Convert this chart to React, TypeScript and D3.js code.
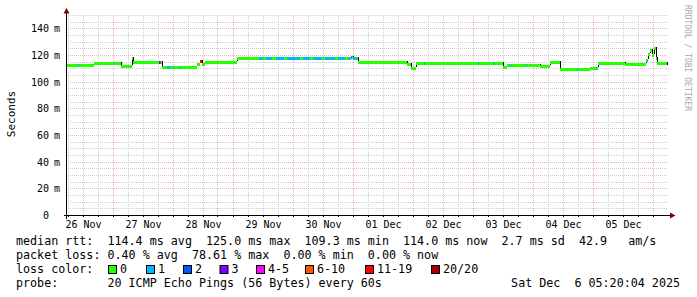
import React from "react";
import * as d3 from "d3";

// ---------- data ----------
const startTime = "2025-11-26T05:36:00Z";
const endTime = "2025-12-06T05:36:00Z";

const yTicks = [0, 20, 40, 60, 80, 100, 120, 140];
const yMax = 150;

// median RTT (ms), step series: value holds from time until next time
const rttTimes = [
  "2025-11-26T05:36:00Z", "2025-11-26T16:36:00Z", "2025-11-27T03:24:00Z", "2025-11-27T07:36:00Z",
  "2025-11-27T08:12:00Z", "2025-11-27T19:48:00Z", "2025-11-28T09:48:00Z", "2025-11-28T11:00:00Z",
  "2025-11-28T11:48:00Z", "2025-11-28T13:00:00Z", "2025-11-29T01:48:00Z", "2025-11-30T23:24:00Z",
  "2025-12-01T00:12:00Z", "2025-12-01T02:12:00Z", "2025-12-01T21:48:00Z", "2025-12-01T23:24:00Z",
  "2025-12-02T01:24:00Z", "2025-12-03T12:12:00Z", "2025-12-03T13:48:00Z", "2025-12-04T03:00:00Z",
  "2025-12-04T07:00:00Z", "2025-12-04T11:00:00Z", "2025-12-04T23:00:00Z", "2025-12-05T02:12:00Z",
  "2025-12-05T13:00:00Z", "2025-12-05T21:24:00Z", "2025-12-05T22:12:00Z", "2025-12-05T23:00:00Z",
  "2025-12-05T23:48:00Z", "2025-12-06T00:36:00Z", "2025-12-06T01:24:00Z", "2025-12-06T01:48:00Z",
  "2025-12-06T05:36:00Z",
];
const rttValues = [
  112.7, 114.0, 112.0, 117.5,
  114.8, 111.3, 113.0, 115.2,
  113.5, 115.0, 118.0, 118.6,
  117.6, 114.8, 113.0, 110.5,
  113.8, 111.0, 112.2, 111.5,
  114.7, 109.5, 110.3, 113.9,
  113.3, 116.0, 121.0, 124.0,
  120.0, 125.0, 118.0, 114.0,
  114.0,
];

// packet-loss spans (loss class index into lossLabels)
const lossStart = [
  "2025-11-26T10:12:00Z", "2025-11-27T00:24:00Z", "2025-11-27T18:36:00Z", "2025-11-27T19:00:00Z",
  "2025-11-27T21:48:00Z", "2025-11-28T00:12:00Z", "2025-11-28T03:00:00Z", "2025-11-28T11:00:00Z",
  "2025-11-29T10:36:00Z", "2025-11-29T13:24:00Z", "2025-11-29T17:24:00Z", "2025-11-29T21:48:00Z",
  "2025-11-30T04:12:00Z", "2025-11-30T08:12:00Z", "2025-11-30T13:00:00Z", "2025-11-30T18:12:00Z",
  "2025-11-30T22:12:00Z", "2025-11-30T23:24:00Z", "2025-12-01T00:12:00Z", "2025-12-02T04:36:00Z",
  "2025-12-03T02:12:00Z", "2025-12-03T08:12:00Z", "2025-12-03T15:00:00Z", "2025-12-03T21:24:00Z",
  "2025-12-04T17:48:00Z", "2025-12-05T01:24:00Z", "2025-12-05T21:48:00Z",
];
const lossEnd = [
  "2025-11-26T10:36:00Z", "2025-11-27T00:48:00Z", "2025-11-27T19:00:00Z", "2025-11-27T19:24:00Z",
  "2025-11-27T23:00:00Z", "2025-11-28T00:36:00Z", "2025-11-28T03:24:00Z", "2025-11-28T11:48:00Z",
  "2025-11-29T12:12:00Z", "2025-11-29T15:48:00Z", "2025-11-29T20:36:00Z", "2025-11-30T03:00:00Z",
  "2025-11-30T07:00:00Z", "2025-11-30T11:48:00Z", "2025-11-30T17:00:00Z", "2025-11-30T21:00:00Z",
  "2025-11-30T23:00:00Z", "2025-11-30T23:48:00Z", "2025-12-01T01:48:00Z", "2025-12-02T05:00:00Z",
  "2025-12-03T02:36:00Z", "2025-12-03T08:36:00Z", "2025-12-03T15:24:00Z", "2025-12-03T21:48:00Z",
  "2025-12-04T18:12:00Z", "2025-12-05T01:48:00Z", "2025-12-05T22:12:00Z",
];
const lossClass = [
  1, 1, 3, 4,
  1, 1, 1, 6,
  1, 1, 1, 1,
  1, 1, 1, 1,
  1, 4, 1, 1,
  1, 1, 1, 1,
  1, 1, 1,
];

const lossLabels = ["0", "1", "2", "3", "4-5", "6-10", "11-19", "20/20"];
const lossColors = ["#26ff00", "#00b8ff", "#0059ff", "#7e00ff", "#ff00ff", "#ff5500", "#ff0000", "#a00000"];

const legendLine1 = "median rtt:  114.4 ms avg  125.0 ms max  109.3 ms min  114.0 ms now  2.7 ms sd  42.9   am/s";
const legendLine2 = "packet loss: 0.40 % avg  78.61 % max  0.00 % min  0.00 % now";
const legendColorTitle = "loss color:";
const probeLine = "probe:       20 ICMP Echo Pings (56 Bytes) every 60s";
const stampText = "Sat Dec  6 05:20:04 2025";
const yTitle = "Seconds";
const watermark = "RRDTOOL / TOBI OETIKER";

// ---------- layout ----------
const W = 697;
const H = 297;
const X0 = 66.5;
const X1 = 666.5;
const Y0 = 215.5;
const YT = 15.5;
const MONO = "'DejaVu Sans Mono', monospace";
const GRID = "#cdcdcd";
const MGRID = "#eeb0b0";

export default function App() {
  const parse = (s: string) => new Date(s);
  const x = d3.scaleUtc().domain([parse(startTime), parse(endTime)]).range([X0, X1]);
  const y = d3.scaleLinear().domain([0, yMax]).range([Y0, YT]);

  const [t0, t1] = x.domain();
  const minor = d3.utcHour.every(6)!.range(t0, t1).filter((d) => x(d) > X0 + 0.5);
  const major = d3.utcDay.range(t0, t1).filter((d) => x(d) > X0 + 0.5);
  const labelDays = d3.utcDay
    .range(d3.utcDay.floor(t0), t1)
    .map((d) => d3.utcHour.offset(d, 12))
    .filter((d) => d < t1);
  const fmt = d3.utcFormat("%d %b");

  const yMinor = d3.range(5, yMax + 0.1, 5).filter((v) => v % 20 !== 0);
  const yMajor = yTicks.filter((v) => v > 0);

  const times = rttTimes.map(parse);
  const valueAt = (t: Date) => {
    const i = d3.bisectRight(times, t) - 1;
    return rttValues[Math.max(0, Math.min(i, rttValues.length - 1))];
  };

  const bandH = 3;
  const sqX = [108, 146, 183, 219.5, 256, 305, 365, 431];
  const hy = (v: number) => Math.floor(y(v));
  const vxi = (d: Date) => Math.round(x(d));
  const vx = (d: Date) => Math.round(x(d)) + 0.5;

  return (
    <svg width={W} height={H} style={{ display: "block", position: "absolute", left: 0, top: 0 }}>
      <defs>
        <pattern id="hGray" patternUnits="userSpaceOnUse" x={0} y={0} width={2} height={1}>
          <rect x={0} y={0} width={1} height={1} fill={GRID} />
        </pattern>
        <pattern id="vGray" patternUnits="userSpaceOnUse" x={0} y={0} width={1} height={2}>
          <rect x={0} y={0} width={1} height={1} fill={GRID} />
        </pattern>
        <pattern id="hRed" patternUnits="userSpaceOnUse" x={0} y={0} width={2} height={1}>
          <rect x={0} y={0} width={1} height={1} fill={MGRID} />
        </pattern>
        <pattern id="vRed" patternUnits="userSpaceOnUse" x={0} y={0} width={1} height={2}>
          <rect x={0} y={0} width={1} height={1} fill={MGRID} />
        </pattern>
      </defs>
      <rect x={0} y={0} width={W} height={H} fill="#ffffff" />
      {/* grid */}
      <g shapeRendering="crispEdges">
        {minor.map((d, i) => (
          <rect key={"gx" + i} x={vxi(d)} y={15} width={1} height={200} fill="url(#vGray)" />
        ))}
        {yMinor.map((v, i) => (
          <rect key={"gy" + i} x={67} y={hy(v)} width={600} height={1} fill="url(#hGray)" />
        ))}
        {major.map((d, i) => (
          <rect key={"mx" + i} x={vxi(d)} y={15} width={1} height={200} fill="url(#vRed)" />
        ))}
        {yMajor.map((v, i) => (
          <rect key={"my" + i} x={67} y={hy(v)} width={600} height={1} fill="url(#hRed)" />
        ))}
      </g>

      {/* step connectors (smoke) */}
      <g stroke="#000" strokeWidth={1} shapeRendering="crispEdges">
        {times.slice(1).map((t, i) => (
          <line key={"c" + i} x1={vx(t)} x2={vx(t)}
            y1={y(rttValues[i]) - 1.5} y2={y(rttValues[i + 1]) + 1.5} />
        ))}
      </g>

      {/* median band */}
      <g shapeRendering="crispEdges">
        {times.slice(0, -1).map((t, i) => (
          <rect key={"b" + i} x={x(t)} y={y(rttValues[i]) - bandH / 2}
            width={Math.max(1, x(times[i + 1]) - x(t))} height={bandH} fill={lossColors[0]} />
        ))}
        {lossStart.map((s, i) => {
          const a = parse(s);
          const b = parse(lossEnd[i]);
          return (
            <rect key={"l" + i} x={x(a)} y={y(valueAt(a)) - bandH / 2}
              width={Math.max(1, x(b) - x(a))} height={bandH} fill={lossColors[lossClass[i]]} />
          );
        })}
      </g>

      {/* axes */}
      <g stroke="#000" strokeWidth={1} shapeRendering="crispEdges">
        <line x1={X0} x2={X0} y1={Y0 + 3} y2={11} />
        <line x1={X0 - 3} x2={671} y1={Y0} y2={Y0} />
        {minor.map((d, i) => (
          <line key={"tx" + i} x1={vx(d)} x2={vx(d)} y1={Y0 - 1} y2={Y0 + 1} />
        ))}
      </g>
      <path d={`M${X0 - 3},13.5 L${X0 + 3},13.5 L${X0},8 Z`} fill="#7f0000" />
      <path d={`M670,${Y0 - 3} L670,${Y0 + 3} L675.5,${Y0} Z`} fill="#7f0000" />

      {/* tick labels */}
      <g fontFamily={MONO} fontSize={10} fill="#000">
        {yTicks.map((v) => (
          <g key={"yl" + v}>
            <text x={49} y={y(v) + 3.5} textAnchor="end">{v}</text>
            {v > 0 && <text x={54} y={y(v) + 3.5}>m</text>}
          </g>
        ))}
        {labelDays.map((d, i) => (
          <text key={"xl" + i} x={x(d) + 1} y={228} textAnchor="middle">{fmt(d)}</text>
        ))}
      </g>

      <text transform="translate(15,114) rotate(-90)" textAnchor="middle" fontFamily={MONO} fontSize={11} fill="#000">{yTitle}</text>
      <text transform="translate(685,5) rotate(90)" fontFamily={MONO} fontSize={8} fill="#a8a8a8">{watermark}</text>

      {/* legend */}
      <g fontFamily={MONO} fontSize={11.7} fill="#000" style={{ whiteSpace: "pre" }}>
        <text x={16} y={245} xmlSpace="preserve">{legendLine1}</text>
        <text x={16} y={259} xmlSpace="preserve">{legendLine2}</text>
        <text x={16} y={273}>{legendColorTitle}</text>
        {lossLabels.map((s, i) => (
          <g key={"lc" + i}>
            <rect x={sqX[i] + 0.5} y={265.5} width={8} height={8} fill={lossColors[i]} stroke="#000" strokeWidth={1} />
            <text x={sqX[i] + 12} y={273}>{s}</text>
          </g>
        ))}
        <text x={16} y={287} xmlSpace="preserve">{probeLine}</text>
        <text x={680} y={287} textAnchor="end" xmlSpace="preserve">{stampText}</text>
      </g>
    </svg>
  );
}
